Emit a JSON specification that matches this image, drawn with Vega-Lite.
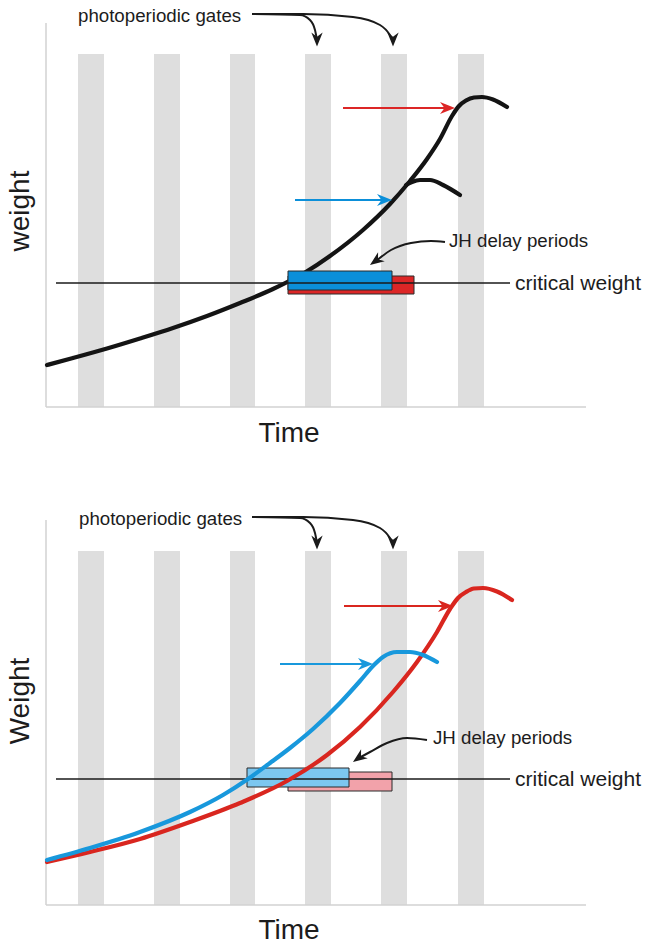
{
  "$schema": "https://vega.github.io/schema/vega-lite/v6.json",
  "padding": 0,
  "spacing": 0,
  "bounds": "flush",
  "background": "white",
  "config": {"view": {"stroke": null}, "text": {"font": "Liberation Sans", "color": "#1c1c1c"}},
  "resolve": {"scale": {"x": "independent", "y": "independent", "color": "independent"}},
  "vconcat": [
    {
      "width": 649,
      "height": 474,
      "data": {"values": [
        {"kind": "gate", "t": 32, "t2": 58, "w": 0, "w2": 353},
        {"kind": "gate", "t": 108, "t2": 134, "w": 0, "w2": 353},
        {"kind": "gate", "t": 184, "t2": 209, "w": 0, "w2": 353},
        {"kind": "gate", "t": 259, "t2": 285, "w": 0, "w2": 353},
        {"kind": "gate", "t": 335, "t2": 361, "w": 0, "w2": 353},
        {"kind": "gate", "t": 412, "t2": 438, "w": 0, "w2": 353},
        {"kind": "axis", "t": 0, "t2": 0, "w": 0, "w2": 384},
        {"kind": "axis", "t": 0, "t2": 540, "w": 0, "w2": 0},
        {"kind": "critical", "t": 10, "t2": 464, "w": 124, "w2": 124},
        {"kind": "delay", "series": "long JH delay", "t": 242, "t2": 368, "w": 113, "w2": 131},
        {"kind": "delay", "series": "short JH delay", "t": 242, "t2": 346, "w": 117, "w2": 136},
        {"kind": "curve", "series": "larva", "id": "main", "t": 1, "w": 42},
        {"kind": "curve", "series": "larva", "id": "main", "t": 27, "w": 49},
        {"kind": "curve", "series": "larva", "id": "main", "t": 61, "w": 58.5},
        {"kind": "curve", "series": "larva", "id": "main", "t": 94, "w": 68.5},
        {"kind": "curve", "series": "larva", "id": "main", "t": 127, "w": 79},
        {"kind": "curve", "series": "larva", "id": "main", "t": 161, "w": 91},
        {"kind": "curve", "series": "larva", "id": "main", "t": 194, "w": 104},
        {"kind": "curve", "series": "larva", "id": "main", "t": 227, "w": 118},
        {"kind": "curve", "series": "larva", "id": "main", "t": 259, "w": 134.5},
        {"kind": "curve", "series": "larva", "id": "main", "t": 284, "w": 151},
        {"kind": "curve", "series": "larva", "id": "main", "t": 317, "w": 177},
        {"kind": "curve", "series": "larva", "id": "main", "t": 344, "w": 203},
        {"kind": "curve", "series": "larva", "id": "main", "t": 364, "w": 226},
        {"kind": "curve", "series": "larva", "id": "main", "t": 381, "w": 248},
        {"kind": "curve", "series": "larva", "id": "main", "t": 394, "w": 268},
        {"kind": "curve", "series": "larva", "id": "main", "t": 406, "w": 291},
        {"kind": "curve", "series": "larva", "id": "main", "t": 413, "w": 301},
        {"kind": "curve", "series": "larva", "id": "main", "t": 420, "w": 306.5},
        {"kind": "curve", "series": "larva", "id": "main", "t": 428, "w": 309.5},
        {"kind": "curve", "series": "larva", "id": "main", "t": 436, "w": 310},
        {"kind": "curve", "series": "larva", "id": "main", "t": 447, "w": 307.5},
        {"kind": "curve", "series": "larva", "id": "main", "t": 461, "w": 300},
        {"kind": "curve", "series": "larva", "id": "branch", "t": 360, "w": 222},
        {"kind": "curve", "series": "larva", "id": "branch", "t": 366, "w": 225},
        {"kind": "curve", "series": "larva", "id": "branch", "t": 374, "w": 227},
        {"kind": "curve", "series": "larva", "id": "branch", "t": 384, "w": 227},
        {"kind": "curve", "series": "larva", "id": "branch", "t": 397, "w": 222},
        {"kind": "curve", "series": "larva", "id": "branch", "t": 414, "w": 212},
        {"kind": "arrow", "series": "long JH delay", "id": "ra", "t": 297, "w": 299},
        {"kind": "arrow", "series": "long JH delay", "id": "ra", "t": 401, "w": 299},
        {"kind": "arrow", "series": "short JH delay", "id": "ba", "t": 249, "w": 207},
        {"kind": "arrow", "series": "short JH delay", "id": "ba", "t": 338, "w": 207},
        {"kind": "head", "series": "long JH delay", "t": 401.5, "w": 299},
        {"kind": "head", "series": "short JH delay", "t": 338.5, "w": 207},
        {"kind": "gatearrow", "id": "g1", "t": 206, "w": 393},
        {"kind": "gatearrow", "id": "g1", "t": 254, "w": 392},
        {"kind": "gatearrow", "id": "g1", "t": 264, "w": 387},
        {"kind": "gatearrow", "id": "g1", "t": 269, "w": 377},
        {"kind": "gatearrow", "id": "g1", "t": 271, "w": 367},
        {"kind": "gatearrow", "id": "g2", "t": 206, "w": 393},
        {"kind": "gatearrow", "id": "g2", "t": 257, "w": 393},
        {"kind": "gatearrow", "id": "g2", "t": 307, "w": 390},
        {"kind": "gatearrow", "id": "g2", "t": 334, "w": 382},
        {"kind": "gatearrow", "id": "g2", "t": 344, "w": 372},
        {"kind": "gatearrow", "id": "g2", "t": 347, "w": 367},
        {"kind": "gatehead", "t": 271, "w": 367.5},
        {"kind": "gatehead", "t": 347, "w": 367.5},
        {"kind": "jharrow", "id": "jh", "t": 330, "w": 146},
        {"kind": "jharrow", "id": "jh", "t": 345, "w": 157},
        {"kind": "jharrow", "id": "jh", "t": 365, "w": 164},
        {"kind": "jharrow", "id": "jh", "t": 385, "w": 166},
        {"kind": "jharrow", "id": "jh", "t": 399, "w": 165},
        {"kind": "jhhead", "t": 329.7, "w": 146.1},
        {"kind": "note", "label": "photoperiodic gates", "t": 32, "w": 385},
        {"kind": "note", "label": "JH delay periods", "t": 403, "w": 160},
        {"kind": "cwlabel", "label": "critical weight", "t": 469, "w": 117},
        {"kind": "xtitle", "label": "Time", "t": 243, "w": -35},
        {"kind": "ytitle", "label": "weight", "t": -25, "w": 196}
      ]},
      "encoding": {
        "x": {"field": "t", "type": "quantitative", "scale": {"domain": [-46, 603], "nice": false, "zero": false}, "axis": null},
        "y": {"field": "w", "type": "quantitative", "scale": {"domain": [-67, 407], "nice": false, "zero": false}, "axis": null}
      },
      "layer": [
        {"transform": [{"filter": "datum.kind === 'gate'"}], "mark": {"type": "rect", "color": "#dedede"}, "encoding": {"x2": {"field": "t2"}, "y2": {"field": "w2"}}},
        {"transform": [{"filter": "datum.kind === 'axis'"}], "mark": {"type": "rule", "color": "#d2d2d2", "strokeWidth": 1.5}, "encoding": {"x2": {"field": "t2"}, "y2": {"field": "w2"}}},
        {"transform": [{"filter": "datum.kind === 'curve'"}], "mark": {"type": "line", "interpolate": "monotone", "strokeWidth": 4.2, "strokeCap": "round"},
         "encoding": {"detail": {"field": "id"}, "color": {"field": "series", "type": "nominal", "legend": null, "scale": {"domain": ["larva", "short JH delay", "long JH delay"], "range": ["#141414", "#0b8fd9", "#dc2626"]}}}},
        {"transform": [{"filter": "datum.kind === 'delay'"}], "mark": {"type": "rect", "stroke": "#2a2a2a", "strokeWidth": 1},
         "encoding": {"x2": {"field": "t2"}, "y2": {"field": "w2"}, "color": {"field": "series", "type": "nominal", "legend": null}}},
        {"transform": [{"filter": "datum.kind === 'critical'"}], "mark": {"type": "rule", "color": "#1a1a1a", "strokeWidth": 1.6}, "encoding": {"x2": {"field": "t2"}, "y2": {"field": "w2"}}},
        {"transform": [{"filter": "datum.kind === 'arrow'"}], "mark": {"type": "line", "strokeWidth": 2},
         "encoding": {"detail": {"field": "id"}, "color": {"field": "series", "type": "nominal", "legend": null}}},
        {"transform": [{"filter": "datum.kind === 'head'"}], "mark": {"type": "point", "filled": true, "shape": "M1,0L-1,-0.8L-0.4,0L-1,0.8Z", "size": 225, "opacity": 1, "strokeWidth": 0},
         "encoding": {"color": {"field": "series", "type": "nominal", "legend": null}}},
        {"transform": [{"filter": "datum.kind === 'gatearrow' || datum.kind === 'jharrow'"}], "mark": {"type": "line", "interpolate": "monotone", "strokeWidth": 2, "color": "#1a1a1a"},
         "encoding": {"detail": {"field": "id"}}},
        {"transform": [{"filter": "datum.kind === 'gatehead'"}], "mark": {"type": "point", "filled": true, "shape": "M1,0L-1,-0.8L-0.4,0L-1,0.8Z", "size": 200, "angle": 90, "color": "#1a1a1a", "opacity": 1, "strokeWidth": 0}},
        {"transform": [{"filter": "datum.kind === 'jhhead'"}], "mark": {"type": "point", "filled": true, "shape": "M1,0L-1,-0.8L-0.4,0L-1,0.8Z", "size": 200, "angle": 144, "color": "#1a1a1a", "opacity": 1, "strokeWidth": 0}},
        {"transform": [{"filter": "datum.kind === 'note'"}], "mark": {"type": "text", "align": "left", "baseline": "alphabetic", "fontSize": 18.7}, "encoding": {"text": {"field": "label"}}},
        {"transform": [{"filter": "datum.kind === 'cwlabel'"}], "mark": {"type": "text", "align": "left", "baseline": "alphabetic", "fontSize": 21}, "encoding": {"text": {"field": "label"}}},
        {"transform": [{"filter": "datum.kind === 'xtitle'"}], "mark": {"type": "text", "align": "center", "baseline": "alphabetic", "fontSize": 28}, "encoding": {"text": {"field": "label"}}},
        {"transform": [{"filter": "datum.kind === 'ytitle'"}], "mark": {"type": "text", "align": "center", "baseline": "middle", "angle": 270, "fontSize": 28}, "encoding": {"text": {"field": "label"}}}
      ]
    },
    {
      "width": 649,
      "height": 475,
      "data": {"values": [
        {"kind": "gate", "t": 32, "t2": 58, "w": 0, "w2": 354},
        {"kind": "gate", "t": 108, "t2": 134, "w": 0, "w2": 354},
        {"kind": "gate", "t": 184, "t2": 209, "w": 0, "w2": 354},
        {"kind": "gate", "t": 259, "t2": 285, "w": 0, "w2": 354},
        {"kind": "gate", "t": 335, "t2": 361, "w": 0, "w2": 354},
        {"kind": "gate", "t": 412, "t2": 438, "w": 0, "w2": 354},
        {"kind": "axis", "t": 0, "t2": 0, "w": 0, "w2": 385},
        {"kind": "axis", "t": 0, "t2": 540, "w": 0, "w2": 0},
        {"kind": "critical", "t": 10, "t2": 464, "w": 126, "w2": 126},
        {"kind": "delay", "series": "slow larva delay", "t": 242, "t2": 346, "w": 114, "w2": 133},
        {"kind": "delay", "series": "fast larva delay", "t": 201, "t2": 303, "w": 118, "w2": 137},
        {"kind": "curve", "series": "slow larva", "id": "slow", "t": 1, "w": 43},
        {"kind": "curve", "series": "slow larva", "id": "slow", "t": 44, "w": 53},
        {"kind": "curve", "series": "slow larva", "id": "slow", "t": 94, "w": 66},
        {"kind": "curve", "series": "slow larva", "id": "slow", "t": 144, "w": 83},
        {"kind": "curve", "series": "slow larva", "id": "slow", "t": 194, "w": 102},
        {"kind": "curve", "series": "slow larva", "id": "slow", "t": 241, "w": 124},
        {"kind": "curve", "series": "slow larva", "id": "slow", "t": 281, "w": 150},
        {"kind": "curve", "series": "slow larva", "id": "slow", "t": 314, "w": 178},
        {"kind": "curve", "series": "slow larva", "id": "slow", "t": 347, "w": 213},
        {"kind": "curve", "series": "slow larva", "id": "slow", "t": 371, "w": 243},
        {"kind": "curve", "series": "slow larva", "id": "slow", "t": 391, "w": 273},
        {"kind": "curve", "series": "slow larva", "id": "slow", "t": 404, "w": 296},
        {"kind": "curve", "series": "slow larva", "id": "slow", "t": 412, "w": 307},
        {"kind": "curve", "series": "slow larva", "id": "slow", "t": 420, "w": 313},
        {"kind": "curve", "series": "slow larva", "id": "slow", "t": 428, "w": 316.5},
        {"kind": "curve", "series": "slow larva", "id": "slow", "t": 437, "w": 317},
        {"kind": "curve", "series": "slow larva", "id": "slow", "t": 451, "w": 313.5},
        {"kind": "curve", "series": "slow larva", "id": "slow", "t": 466, "w": 305},
        {"kind": "curve", "series": "fast larva", "id": "fast", "t": 1, "w": 45},
        {"kind": "curve", "series": "fast larva", "id": "fast", "t": 44, "w": 57},
        {"kind": "curve", "series": "fast larva", "id": "fast", "t": 94, "w": 73},
        {"kind": "curve", "series": "fast larva", "id": "fast", "t": 144, "w": 93},
        {"kind": "curve", "series": "fast larva", "id": "fast", "t": 177, "w": 110},
        {"kind": "curve", "series": "fast larva", "id": "fast", "t": 202, "w": 126},
        {"kind": "curve", "series": "fast larva", "id": "fast", "t": 224, "w": 142},
        {"kind": "curve", "series": "fast larva", "id": "fast", "t": 244, "w": 157},
        {"kind": "curve", "series": "fast larva", "id": "fast", "t": 267, "w": 176},
        {"kind": "curve", "series": "fast larva", "id": "fast", "t": 294, "w": 202},
        {"kind": "curve", "series": "fast larva", "id": "fast", "t": 314, "w": 224},
        {"kind": "curve", "series": "fast larva", "id": "fast", "t": 327, "w": 239},
        {"kind": "curve", "series": "fast larva", "id": "fast", "t": 337, "w": 248},
        {"kind": "curve", "series": "fast larva", "id": "fast", "t": 351, "w": 253},
        {"kind": "curve", "series": "fast larva", "id": "fast", "t": 364, "w": 253},
        {"kind": "curve", "series": "fast larva", "id": "fast", "t": 377, "w": 250},
        {"kind": "curve", "series": "fast larva", "id": "fast", "t": 391, "w": 243},
        {"kind": "arrow", "series": "slow larva", "id": "ra", "t": 298, "w": 299},
        {"kind": "arrow", "series": "slow larva", "id": "ra", "t": 399, "w": 299},
        {"kind": "arrow", "series": "fast larva", "id": "ba", "t": 234, "w": 241},
        {"kind": "arrow", "series": "fast larva", "id": "ba", "t": 319, "w": 241},
        {"kind": "head", "series": "slow larva", "t": 399.5, "w": 299},
        {"kind": "head", "series": "fast larva", "t": 319.5, "w": 241},
        {"kind": "gatearrow", "id": "g1", "t": 206, "w": 388},
        {"kind": "gatearrow", "id": "g1", "t": 254, "w": 387},
        {"kind": "gatearrow", "id": "g1", "t": 264, "w": 382},
        {"kind": "gatearrow", "id": "g1", "t": 269, "w": 372},
        {"kind": "gatearrow", "id": "g1", "t": 271, "w": 362},
        {"kind": "gatearrow", "id": "g2", "t": 206, "w": 388},
        {"kind": "gatearrow", "id": "g2", "t": 257, "w": 388},
        {"kind": "gatearrow", "id": "g2", "t": 307, "w": 385},
        {"kind": "gatearrow", "id": "g2", "t": 334, "w": 377},
        {"kind": "gatearrow", "id": "g2", "t": 344, "w": 367},
        {"kind": "gatearrow", "id": "g2", "t": 347, "w": 362},
        {"kind": "gatehead", "t": 271, "w": 362.5},
        {"kind": "gatehead", "t": 347, "w": 362.5},
        {"kind": "jharrow", "id": "jh", "t": 313, "w": 147},
        {"kind": "jharrow", "id": "jh", "t": 324, "w": 153},
        {"kind": "jharrow", "id": "jh", "t": 341, "w": 162},
        {"kind": "jharrow", "id": "jh", "t": 361, "w": 167},
        {"kind": "jharrow", "id": "jh", "t": 381, "w": 165},
        {"kind": "jhhead", "t": 312.7, "w": 147.1},
        {"kind": "note", "label": "photoperiodic gates", "t": 33, "w": 380},
        {"kind": "note", "label": "JH delay periods", "t": 387, "w": 161},
        {"kind": "cwlabel", "label": "critical weight", "t": 469, "w": 119},
        {"kind": "xtitle", "label": "Time", "t": 243, "w": -34},
        {"kind": "ytitle", "label": "Weight", "t": -25, "w": 204}
      ]},
      "encoding": {
        "x": {"field": "t", "type": "quantitative", "scale": {"domain": [-46, 603], "nice": false, "zero": false}, "axis": null},
        "y": {"field": "w", "type": "quantitative", "scale": {"domain": [-44, 431], "nice": false, "zero": false}, "axis": null}
      },
      "layer": [
        {"transform": [{"filter": "datum.kind === 'gate'"}], "mark": {"type": "rect", "color": "#dedede"}, "encoding": {"x2": {"field": "t2"}, "y2": {"field": "w2"}}},
        {"transform": [{"filter": "datum.kind === 'axis'"}], "mark": {"type": "rule", "color": "#d2d2d2", "strokeWidth": 1.5}, "encoding": {"x2": {"field": "t2"}, "y2": {"field": "w2"}}},
        {"transform": [{"filter": "datum.kind === 'delay'"}], "mark": {"type": "rect", "stroke": "#2a2a2a", "strokeWidth": 1},
         "encoding": {"x2": {"field": "t2"}, "y2": {"field": "w2"}, "color": {"field": "series", "type": "nominal", "legend": null, "scale": {"domain": ["fast larva", "slow larva", "fast larva delay", "slow larva delay"], "range": ["#1898dc", "#d9261f", "#7cc7f0", "#f2a2aa"]}}}},
        {"transform": [{"filter": "datum.kind === 'critical'"}], "mark": {"type": "rule", "color": "#1a1a1a", "strokeWidth": 1.6}, "encoding": {"x2": {"field": "t2"}, "y2": {"field": "w2"}}},
        {"transform": [{"filter": "datum.kind === 'curve'"}], "mark": {"type": "line", "interpolate": "monotone", "strokeWidth": 4.2, "strokeCap": "round"},
         "encoding": {"detail": {"field": "id"}, "color": {"field": "series", "type": "nominal", "legend": null}}},
        {"transform": [{"filter": "datum.kind === 'arrow'"}], "mark": {"type": "line", "strokeWidth": 2},
         "encoding": {"detail": {"field": "id"}, "color": {"field": "series", "type": "nominal", "legend": null}}},
        {"transform": [{"filter": "datum.kind === 'head'"}], "mark": {"type": "point", "filled": true, "shape": "M1,0L-1,-0.8L-0.4,0L-1,0.8Z", "size": 225, "opacity": 1, "strokeWidth": 0},
         "encoding": {"color": {"field": "series", "type": "nominal", "legend": null}}},
        {"transform": [{"filter": "datum.kind === 'gatearrow' || datum.kind === 'jharrow'"}], "mark": {"type": "line", "interpolate": "monotone", "strokeWidth": 2, "color": "#1a1a1a"},
         "encoding": {"detail": {"field": "id"}}},
        {"transform": [{"filter": "datum.kind === 'gatehead'"}], "mark": {"type": "point", "filled": true, "shape": "M1,0L-1,-0.8L-0.4,0L-1,0.8Z", "size": 200, "angle": 90, "color": "#1a1a1a", "opacity": 1, "strokeWidth": 0}},
        {"transform": [{"filter": "datum.kind === 'jhhead'"}], "mark": {"type": "point", "filled": true, "shape": "M1,0L-1,-0.8L-0.4,0L-1,0.8Z", "size": 200, "angle": 144, "color": "#1a1a1a", "opacity": 1, "strokeWidth": 0}},
        {"transform": [{"filter": "datum.kind === 'note'"}], "mark": {"type": "text", "align": "left", "baseline": "alphabetic", "fontSize": 18.7}, "encoding": {"text": {"field": "label"}}},
        {"transform": [{"filter": "datum.kind === 'cwlabel'"}], "mark": {"type": "text", "align": "left", "baseline": "alphabetic", "fontSize": 21}, "encoding": {"text": {"field": "label"}}},
        {"transform": [{"filter": "datum.kind === 'xtitle'"}], "mark": {"type": "text", "align": "center", "baseline": "alphabetic", "fontSize": 28}, "encoding": {"text": {"field": "label"}}},
        {"transform": [{"filter": "datum.kind === 'ytitle'"}], "mark": {"type": "text", "align": "center", "baseline": "middle", "angle": 270, "fontSize": 28}, "encoding": {"text": {"field": "label"}}}
      ]
    }
  ]
}
